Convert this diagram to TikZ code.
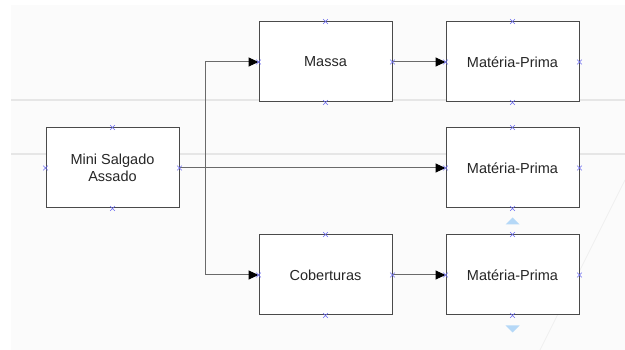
\documentclass[tikz,border=0pt]{standalone}
\usepackage{fontspec}
\setmainfont{Liberation Sans}
\usetikzlibrary{arrows.meta,shapes.misc}
\definecolor{markblue}{HTML}{6B6BF0}
\definecolor{triblue}{HTML}{B5D8F7}
\definecolor{bgline}{HTML}{E6E6E6}
\definecolor{boxline}{HTML}{4A4A4A}
\definecolor{conn}{HTML}{6A6A6A}
\begin{document}
\begin{tikzpicture}[x=1pt,y=-1pt,
  blockbox/.style={draw=boxline,line width=1pt,fill=white,minimum width=133pt,minimum height=80pt,inner sep=0pt,align=center,text=black!85,font=\fontsize{14.5}{17}\selectfont},
  connector/.style={draw=conn,line width=1pt,-{Triangle[length=10pt,width=9pt,fill=black,color=black]}},
  xmark/.style={cross out,draw=markblue,line width=0.6pt,minimum size=4pt,inner sep=0pt},
  tri/.style={fill=triblue,draw=none}
]
\useasboundingbox (0,0) rectangle (625,350);
% background
\fill[white] (0,0) rectangle (625,350);
\fill[gray!3] (11,5) rectangle (625,350);
\draw[bgline,line width=1.5pt] (11,100) -- (625,100);
\draw[bgline,line width=1.5pt] (11,154) -- (625,154);
\draw[gray!12,line width=0.8pt] (625,180) -- (540,350);

% nodes
\node[blockbox] (mini) at (112.5,168) {Mini Salgado\\Assado};
\node[blockbox] (massa) at (325.5,62) {Massa};
\node[blockbox] (cob) at (325.5,275) {Coberturas};
\node[blockbox] (mp1) at (512.5,62) {Matéria-Prima};
\node[blockbox] (mp2) at (512.5,168) {Matéria-Prima};
\node[blockbox] (mp3) at (512.5,275) {Matéria-Prima};

% connectors
\coordinate (split) at ([xshift=26pt]mini.east);
\draw[connector] (mini.east) -- (mp2.west);
\draw[connector] (mini.east) -- (split) |- (massa.west);
\draw[connector] (mini.east) -- (split) |- (cob.west);
\draw[connector] (massa.east) -- (mp1.west);
\draw[connector] (cob.east) -- (mp3.west);

% connection markers
\foreach \n in {mini,massa,cob,mp1,mp2,mp3}{
  \foreach \a in {north,south,east,west}{
    \node[xmark] at (\n.\a) {};
  }
}

% small triangles
\fill[tri] ([yshift=-16pt]mp2.south) -- ++(-7,0) -- ++(7,-7) -- ++(7,7) -- cycle;
\fill[tri] ([yshift=-10pt]mp3.south) -- ++(-7,0) -- ++(7,7) -- ++(7,-7) -- cycle;
\end{tikzpicture}
\end{document}
